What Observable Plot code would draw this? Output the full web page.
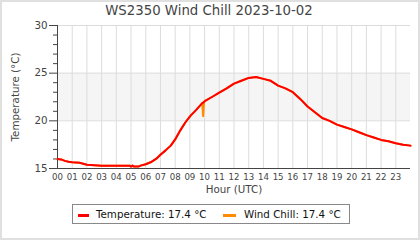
<!DOCTYPE html>
<html>
<head>
<meta charset="utf-8">
<script src="https://cdn.jsdelivr.net/npm/d3@7"></script>
<script src="https://cdn.jsdelivr.net/npm/@observablehq/plot@0.6"></script>
<style>
  body { margin: 0; background: #fff; font-family: "DejaVu Sans", sans-serif; }
  #wrap { position: relative; width: 420px; height: 240px; overflow: hidden; }
  #frame { position: absolute; left: 0; top: 0; width: 420px; height: 240px; box-sizing: border-box; border: 2px solid #e0e0e0; pointer-events: none; }
  #title { position: absolute; left: 0; top: 2px; width: 418px; text-align: center; font-size: 13.3px; color: #444; line-height: 18px; }
  #chart { position: absolute; left: 0; top: 0; }
  #legend { position: absolute; left: 72px; top: 204px; width: 278px; height: 20px; box-sizing: border-box; border: 1px solid #888; font-size: 10.3px; color: #111; }
  .sw { position: absolute; top: 9px; height: 2.5px; }
  .lt { position: absolute; top: 3px; line-height: 12px; white-space: nowrap; }
</style>
</head>
<body>
<div id="wrap">
  <div id="chart"></div>
  <div id="title"></div>
  <div id="legend"></div>
  <div id="frame"></div>
</div>
<script>
const titleText = "WS2350 Wind Chill 2023-10-02";
const yLabel = "Temperature (°C)";
const xLabel = "Hour (UTC)";

const hours = [0, 0.25, 0.5, 0.75, 1, 1.5, 2, 2.5, 3, 4, 4.9, 5.0, 5.1, 5.2, 5.5, 5.65, 6, 6.33, 6.7, 7.0, 7.35, 7.7, 8.0, 8.35, 8.7, 9.05, 9.4, 9.84, 9.9, 9.97, 10.07, 10.5, 11, 11.5, 12, 12.5, 13, 13.5, 14, 14.5, 15, 15.5, 16, 16.5, 17, 17.5, 18, 18.5, 19, 19.5, 20, 20.5, 21, 21.5, 22, 22.5, 23, 23.5, 24];
const temperature = [16.0, 15.95, 15.8, 15.7, 15.65, 15.6, 15.4, 15.35, 15.3, 15.3, 15.3, 15.2, 15.3, 15.2, 15.2, 15.3, 15.45, 15.65, 16.0, 16.45, 16.9, 17.4, 18.05, 19.0, 19.85, 20.55, 21.1, 21.85, 21.9, 22.0, 22.13, 22.5, 22.95, 23.4, 23.9, 24.2, 24.5, 24.6, 24.4, 24.2, 23.7, 23.4, 23.0, 22.3, 21.5, 20.9, 20.3, 20.0, 19.6, 19.35, 19.1, 18.8, 18.5, 18.25, 18.0, 17.85, 17.65, 17.5, 17.4];
const windChill = [16.0, 15.95, 15.8, 15.7, 15.65, 15.6, 15.4, 15.35, 15.3, 15.3, 15.3, 15.2, 15.3, 15.2, 15.2, 15.3, 15.45, 15.65, 16.0, 16.45, 16.9, 17.4, 18.05, 19.0, 19.85, 20.55, 21.1, 21.85, 20.5, 22.0, 22.13, 22.5, 22.95, 23.4, 23.9, 24.2, 24.5, 24.6, 24.4, 24.2, 23.7, 23.4, 23.0, 22.3, 21.5, 20.9, 20.3, 20.0, 19.6, 19.35, 19.1, 18.8, 18.5, 18.25, 18.0, 17.85, 17.65, 17.5, 17.4];

const hourTicks = [0, 1, 2, 3, 4, 5, 6, 7, 8, 9, 10, 11, 12, 13, 14, 15, 16, 17, 18, 19, 20, 21, 22, 23];
const hourLabels = ["00","01","02","03","04","05","06","07","08","09","10","11","12","13","14","15","16","17","18","19","20","21","22","23"];
const hourGrid = [1, 2, 3, 4, 5, 6, 7, 8, 9, 10, 11, 12, 13, 14, 15, 16, 17, 18, 19, 20, 21, 22, 23];
const yMajor = [15, 20, 25, 30];
const yMinor = [16, 17, 18, 19, 21, 22, 23, 24, 26, 27, 28, 29];
const yGrid = [20, 25, 30];
const band = [{lo: 20, hi: 25}];

const seriesNames = ["Temperature", "Wind Chill"];
const seriesColors = ["#ff0000", "#ff8c00"];
const lastTemp = temperature[temperature.length - 1];
const lastChill = windChill[windChill.length - 1];

const tempData = hours.map((h, i) => ({h, v: temperature[i]}));
const chillData = hours.map((h, i) => ({h, v: windChill[i]}));

const plot = Plot.plot({
  width: 420,
  height: 240,
  marginLeft: 57,
  marginRight: 10,
  marginTop: 25,
  marginBottom: 72,
  style: {fontFamily: "DejaVu Sans, sans-serif", color: "#444", background: "transparent", overflow: "visible"},
  x: {domain: [0, 24]},
  y: {domain: [15, 30]},
  marks: [
    Plot.rect(band, {x1: 0, x2: 24, y1: "lo", y2: "hi", fill: "#f5f5f5"}),
    Plot.ruleX(hourGrid, {stroke: "#dcdcdc", strokeWidth: 1}),
    Plot.ruleY(yGrid, {stroke: "#dcdcdc", strokeWidth: 1}),
    Plot.axisY(yMajor, {tickSize: 8, tickPadding: 2, fontSize: 10.3, stroke: "#444", strokeOpacity: 1, label: null}),
    Plot.axisY(yMinor, {tickSize: 4, tickFormat: () => "", stroke: "#444", strokeOpacity: 1, label: null}),
    Plot.axisX(hourTicks, {tickSize: 0, tickPadding: 5, fontSize: 8.6, tickFormat: (d) => hourLabels[hourTicks.indexOf(d)], label: null}),
    Plot.ruleX([0], {stroke: "#444", strokeWidth: 1}),
    Plot.ruleY([15], {stroke: "#444", strokeWidth: 1}),
    Plot.line(chillData, {x: "h", y: "v", stroke: seriesColors[1], strokeWidth: 2}),
    Plot.line(tempData, {x: "h", y: "v", stroke: seriesColors[0], strokeWidth: 2}),
    Plot.text([xLabel], {frameAnchor: "bottom", dy: 21, lineAnchor: "middle", fontSize: 10.3, fill: "#444"}),
    Plot.text([yLabel], {frameAnchor: "left", dx: -42, rotate: -90, textAnchor: "middle", lineAnchor: "middle", fontSize: 10.3, fill: "#444"})
  ]
});
document.getElementById("chart").appendChild(plot);
document.getElementById("title").textContent = titleText;

const legend = document.getElementById("legend");
const items = [
  {name: seriesNames[0], color: seriesColors[0], val: lastTemp, sx: 5, sw: 11, tx: 23},
  {name: seriesNames[1], color: seriesColors[1], val: lastChill, sx: 150, sw: 13, tx: 171}
];
for (const it of items) {
  const s = document.createElement("div");
  s.className = "sw";
  s.style.left = it.sx + "px";
  s.style.width = it.sw + "px";
  s.style.background = it.color;
  legend.appendChild(s);
  const t = document.createElement("div");
  t.className = "lt";
  t.style.left = it.tx + "px";
  t.textContent = `${it.name}: ${it.val.toFixed(1)} °C`;
  legend.appendChild(t);
}
</script>
</body>
</html>
